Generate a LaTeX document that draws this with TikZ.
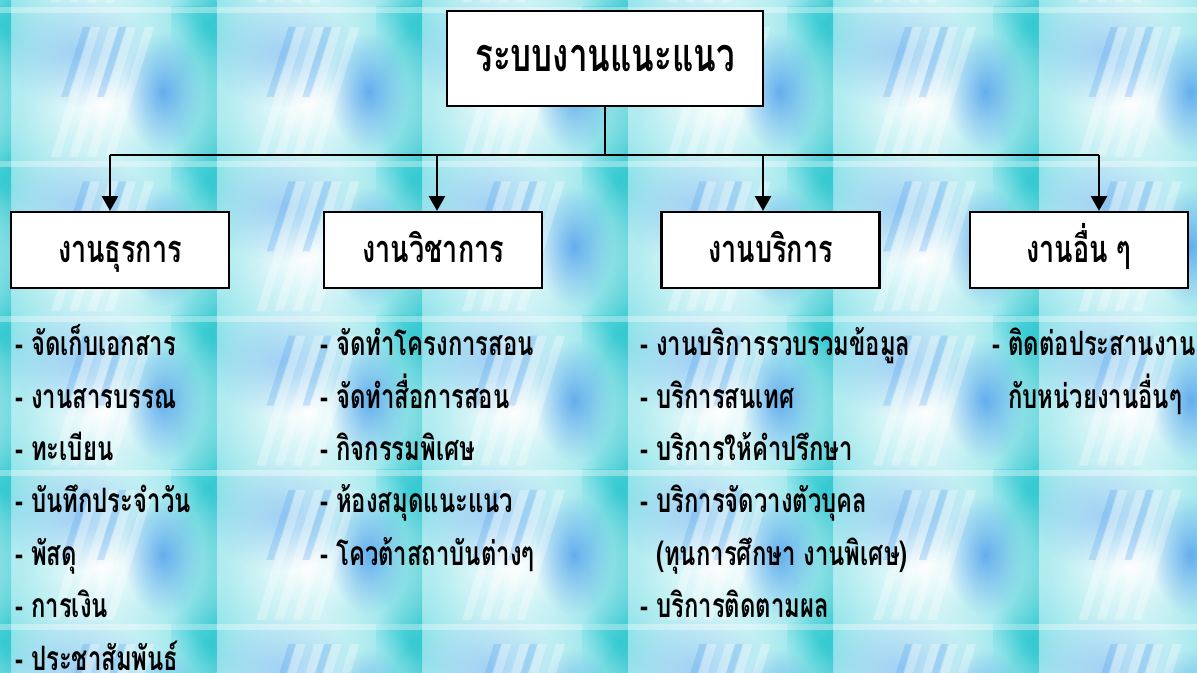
\documentclass[tikz,border=0pt]{standalone}
\usepackage{fontspec}
\usetikzlibrary{positioning,arrows.meta,fadings}
\newfontfamily\thaifont[Script=Thai,FakeStretch=0.71]{Loma}

\definecolor{tilecyan}{RGB}{128,224,231}
\definecolor{tileteal}{RGB}{34,196,204}
\definecolor{tileblue}{RGB}{50,140,235}

\tikzfading[name=softglow, inner color=transparent!0, outer color=transparent!100]

\tikzset{
	headbox/.style={draw=black, line width=1.7pt, fill=white, inner sep=0pt, minimum width=237pt, minimum height=71.25pt, text height=21pt, text depth=0.8pt, font=\thaifont\bfseries\fontsize{35}{40}\selectfont},
	kbox/.style={draw=black, line width=1.7pt, fill=white, inner sep=0pt, minimum width=163.5pt, minimum height=57pt, text height=20pt, text depth=0.5pt, font=\thaifont\bfseries\fontsize{28.5}{34}\selectfont},
	item/.style={inner sep=0pt, text height=28pt, text depth=10.85pt, font=\thaifont\bfseries\fontsize{25.2}{30}\selectfont},
	link/.style={line width=1.7pt},
	arr/.style={line width=1.7pt, -{Triangle[width=12pt,length=11pt]}},
}

\begin{document}
\begin{tikzpicture}[x=0.75pt,y=-0.75pt]
	\useasboundingbox (0,0) rectangle (1197,673);
	\begin{scope}
		\clip (0,0) rectangle (1197,673);
		\fill[tilecyan] (0,0) rectangle (1197,673);
		\foreach \i in {0,...,6}
			\foreach \j in {0,...,5}
			{
				\begin{scope}[shift={(\i*205.5-194.5,\j*154.3-147.3)}]
					\shade[left color=tilecyan, right color=tileteal] (160,0) rectangle (205.5,154.3);
					\fill[white, path fading=softglow] (90,95) ellipse (130 and 120);
					\fill[tileblue!55!white, path fading=softglow, fill opacity=0.65] (65,45) ellipse (75 and 55);
					\fill[tileblue, path fading=softglow, fill opacity=0.65] (152,85) ellipse (40 and 60);
					\foreach \s in {40,58,76,94}
						\fill[white, fill opacity=0.3] (\s,150) -- ++(9,0) -- ++(40,-130) -- ++(-9,0) -- cycle;
					\foreach \s in {50,86}
						\fill[tileblue, fill opacity=0.2] (\s,90) -- ++(7,0) -- ++(22,-70) -- ++(-7,0) -- cycle;
					\fill[white, fill opacity=0.35] (0,0) rectangle (205.5,6);
				\end{scope}
			}
	\end{scope}

	\node[headbox] (top) at (605,58.5) {ระบบงานแนะแนว};
	\node[kbox] (k1) at (120,250) {งานธุรการ};
	\node[kbox, right=69.75pt of k1] (k2) {งานวิชาการ};
	\node[kbox, right=87.75pt of k2] (k3) {งานบริการ};
	\node[kbox, right=66pt of k3] (k4) {งานอื่น ๆ};

	\coordinate (h1) at (110,155);
	\coordinate (h2) at (437,155);
	\coordinate (h3) at (763,155);
	\coordinate (h4) at (1099,155);
	\draw[link] (top.south) -- (top.south |- h1);
	\draw[link] (h1) -- (h4);
	\draw[arr] (h1) -- (h1 |- k1.north);
	\draw[arr] (h2) -- (h2 |- k2.north);
	\draw[arr] (h3) -- (h3 |- k3.north);
	\draw[arr] (h4) -- (h4 |- k4.north);

	\node[item, anchor=base west] (a1) at (15,356) {- จัดเก็บเอกสาร};
	\node[item, below right=0pt of a1.south west] (a2) {- งานสารบรรณ};
	\node[item, below right=0pt of a2.south west] (a3) {- ทะเบียน};
	\node[item, below right=0pt of a3.south west] (a4) {- บันทึกประจำวัน};
	\node[item, below right=0pt of a4.south west] (a5) {- พัสดุ};
	\node[item, below right=0pt of a5.south west] (a6) {- การเงิน};
	\node[item, below right=0pt of a6.south west] (a7) {- ประชาสัมพันธ์};

	\node[item, anchor=base west] (b1) at (320,356) {- จัดทำโครงการสอน};
	\node[item, below right=0pt of b1.south west] (b2) {- จัดทำสื่อการสอน};
	\node[item, below right=0pt of b2.south west] (b3) {- กิจกรรมพิเศษ};
	\node[item, below right=0pt of b3.south west] (b4) {- ห้องสมุดแนะแนว};
	\node[item, below right=0pt of b4.south west] (b5) {- โควต้าสถาบันต่างๆ};

	\node[item, anchor=base west] (c1) at (640,356) {- งานบริการรวบรวมข้อมูล};
	\node[item, below right=0pt of c1.south west] (c2) {- บริการสนเทศ};
	\node[item, below right=0pt of c2.south west] (c3) {- บริการให้คำปรึกษา};
	\node[item, below right=0pt of c3.south west] (c4) {- บริการจัดวางตัวบุคล};
	\node[item, below right=0pt of c4.south west] (c5) {\phantom{- }(ทุนการศึกษา งานพิเศษ)};
	\node[item, below right=0pt of c5.south west] (c6) {- บริการติดตามผล};

	\node[item, anchor=base west] (d1) at (992,356) {- ติดต่อประสานงาน};
	\node[item, below right=0pt of d1.south west] (d2) {\phantom{- }กับหน่วยงานอื่นๆ};
\end{tikzpicture}
\end{document}
